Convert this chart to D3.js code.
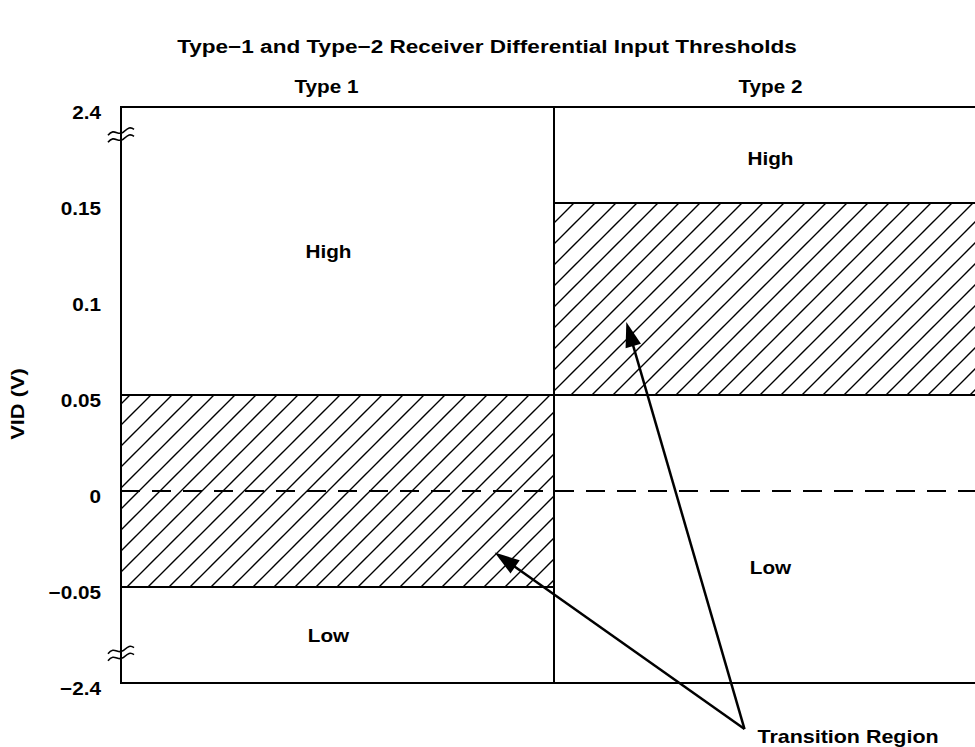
<!DOCTYPE html>
<html>
<head>
<meta charset="utf-8">
<script src="https://cdn.jsdelivr.net/npm/d3@7"></script>
<style>
  html, body { margin: 0; padding: 0; background: #fff; }
  svg { display: block; font-family: "Liberation Sans", Arial, Helvetica, sans-serif; font-weight: bold; }
</style>
</head>
<body>
<svg id="chart" width="975" height="747"></svg>
<script>
// ---- data ----
const title = "Type\u22121 and Type\u22122 Receiver Differential Input Thresholds";
const columns = ["Type 1", "Type 2"];
const yTickValues = [0.2, 0.15, 0.1, 0.05, 0, -0.05, -0.1];
const yTickLabels = ["2.4", "0.15", "0.1", "0.05", "0", "\u22120.05", "\u22122.4"];
const yAxisTitle = "VID (V)";
// transition region per column: [low, high]
const transitionLow = [-0.05, 0.05];
const transitionHigh = [0.05, 0.15];
// region labels: column index, value, text
const regionColumn = [0, 0, 1, 1];
const regionValue = [0.125, -0.075, 0.173, -0.04];
const regionText = ["High", "Low", "High", "Low"];
// axis break positions
const breakValues = [0.185, -0.085];
// annotation: arrow tips (x in column units, y in value units) and label anchor
const arrowTipX = [0.863, 1.167];
const arrowTipY = [-0.032, 0.088];
const annotationX = 1.44;
const annotationY = -0.124;
const annotationText = "Transition Region";

// ---- layout ----
(function draw() {
const svg = d3.select("#chart");
const mLeft = 121, mRight = 987, mTop = 107, mBottom = 683;
const FS = 18.5, SX = 1.12;

const x = d3.scaleLinear().domain([0, 2]).range([mLeft, mRight]);
const y = d3.scaleLinear().domain([-0.1, 0.2]).range([mBottom, mTop]);

function label(parent, tx, ty, txt, anchor, size, sx, rot) {
  return parent.append("text")
    .attr("transform", `translate(${tx},${ty})${rot ? ` rotate(${rot})` : ""} scale(${sx},1)`)
    .attr("text-anchor", anchor).attr("dominant-baseline", "central")
    .attr("font-size", size)
    .text(txt);
}

// hatch pattern
const defs = svg.append("defs");
const hs = 21;
const pat = defs.append("pattern")
  .attr("id", "hatch").attr("patternUnits", "userSpaceOnUse")
  .attr("width", hs).attr("height", hs)
  .attr("x", 0).attr("y", 0);
pat.append("path")
  .attr("d", `M0,${hs} L${hs},0 M${-hs/2},${hs/2} L${hs/2},${-hs/2} M${hs/2},${hs*1.5} L${hs*1.5},${hs/2}`)
  .attr("stroke", "#000").attr("stroke-width", 1.4).attr("fill", "none");

// title
label(svg, 487, 46, title, "middle", 18.5, 1.22);

// transition regions
columns.forEach((c, i) => {
  svg.append("rect")
    .attr("x", x(i)).attr("width", x(i + 1) - x(i))
    .attr("y", y(transitionHigh[i])).attr("height", y(transitionLow[i]) - y(transitionHigh[i]))
    .attr("fill", "url(#hatch)");
  [transitionLow[i], transitionHigh[i]].forEach(v => {
    svg.append("line")
      .attr("x1", x(i)).attr("x2", x(i + 1))
      .attr("y1", y(v)).attr("y2", y(v))
      .attr("stroke", "#000").attr("stroke-width", 2);
  });
});

// zero dashed line
svg.append("line")
  .attr("x1", mLeft).attr("x2", mRight)
  .attr("y1", y(0)).attr("y2", y(0))
  .attr("stroke", "#000").attr("stroke-width", 2)
  .attr("stroke-dasharray", "19,12");

// plot frame
svg.append("rect")
  .attr("x", mLeft).attr("y", mTop)
  .attr("width", mRight - mLeft).attr("height", mBottom - mTop)
  .attr("fill", "none").attr("stroke", "#000").attr("stroke-width", 2);

// column divider
svg.append("line")
  .attr("x1", x(1)).attr("x2", x(1))
  .attr("y1", mTop).attr("y2", mBottom)
  .attr("stroke", "#000").attr("stroke-width", 2);

// column headers
columns.forEach((c, i) => {
  label(svg, x(i + 0.5) - (i === 0 ? 11 : 0), 86, c, "middle", FS, SX);
});

// region labels
regionText.forEach((t, k) => {
  label(svg, x(regionColumn[k] + 0.5) - (regionColumn[k] === 0 ? 9 : 0), y(regionValue[k]), t, "middle", FS, SX);
});

// y axis
const axis = d3.axisLeft(y)
  .tickValues(yTickValues)
  .tickFormat((d, i) => yTickLabels[i])
  .tickSize(0).tickPadding(20);
const gAxis = svg.append("g").attr("transform", `translate(${mLeft},0)`).call(axis);
gAxis.select(".domain").remove();
gAxis.attr("font-family", null).attr("font-size", null);
gAxis.selectAll("text")
  .attr("font-size", FS).attr("font-weight", "bold").attr("fill", "#000")
  .attr("x", 0).attr("dy", null).attr("dominant-baseline", "central")
  .attr("transform", `translate(-20,5) scale(${SX},1)`);

// axis breaks
breakValues.forEach(v => {
  const cy = y(v);
  [-3.5, 3.5].forEach(off => {
    svg.append("path")
      .attr("d", `M${mLeft - 13},${cy + off + 3} C${mLeft - 7},${cy + off - 5} ${mLeft - 3},${cy + off + 4} ${mLeft + 2},${cy + off} S${mLeft + 9},${cy + off - 6} ${mLeft + 13},${cy + off - 3}`)
      .attr("fill", "none").attr("stroke", "#000").attr("stroke-width", 1.6);
  });
});

// y axis title
label(svg, 18, 404, yAxisTitle, "middle", FS, 1.18, -90);

// annotation arrows
const ax = x(annotationX), ay = y(annotationY);
arrowTipX.forEach((tx, k) => {
  const px = x(tx), py = y(arrowTipY[k]);
  const dx = px - ax, dy = py - ay, len = Math.hypot(dx, dy);
  const ux = dx / len, uy = dy / len;
  const headLen = 25, headW = 8;
  const bx = px - ux * headLen, by = py - uy * headLen;
  svg.append("line")
    .attr("x1", ax).attr("y1", ay).attr("x2", bx + ux * 2).attr("y2", by + uy * 2)
    .attr("stroke", "#000").attr("stroke-width", 2.5);
  svg.append("path")
    .attr("d", `M${px},${py} L${bx - uy * headW},${by + ux * headW} L${bx + uy * headW},${by - ux * headW} Z`)
    .attr("fill", "#000");
});
label(svg, ax + 13, ay + 7, annotationText, "start", FS, 1.16);
})();
</script>
</body>
</html>
